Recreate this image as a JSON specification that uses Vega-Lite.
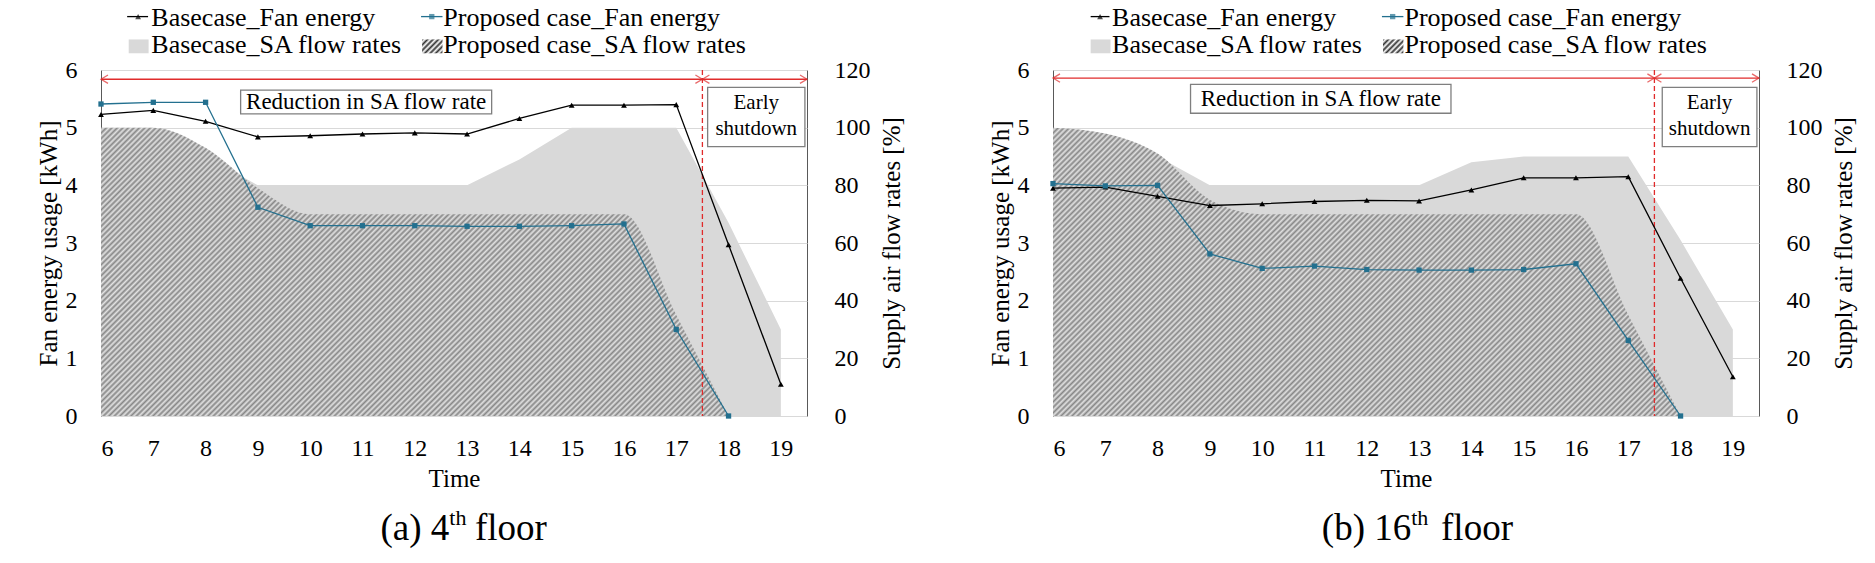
{
  "$schema": "https://vega.github.io/schema/vega-lite/v6.json",
  "padding": {"left": 35, "top": 4, "right": 5, "bottom": 5},
  "spacing": 82,
  "datasets": {
    "floors": [
      {"floor": "4th", "hour": 6, "base_fan": 5.23, "prop_fan": 5.41, "base_sa": 100, "prop_sa": 100},
      {"floor": "4th", "hour": 7, "base_fan": 5.30, "prop_fan": 5.44, "base_sa": 100, "prop_sa": 100},
      {"floor": "4th", "hour": 8, "base_fan": 5.11, "prop_fan": 5.44, "base_sa": 90, "prop_sa": 93},
      {"floor": "4th", "hour": 9, "base_fan": 4.84, "prop_fan": 3.62, "base_sa": 80, "prop_sa": 79},
      {"floor": "4th", "hour": 10, "base_fan": 4.86, "prop_fan": 3.30, "base_sa": 80, "prop_sa": 70},
      {"floor": "4th", "hour": 11, "base_fan": 4.89, "prop_fan": 3.30, "base_sa": 80, "prop_sa": 70},
      {"floor": "4th", "hour": 12, "base_fan": 4.91, "prop_fan": 3.30, "base_sa": 80, "prop_sa": 70},
      {"floor": "4th", "hour": 13, "base_fan": 4.89, "prop_fan": 3.29, "base_sa": 80, "prop_sa": 70},
      {"floor": "4th", "hour": 14, "base_fan": 5.16, "prop_fan": 3.29, "base_sa": 89, "prop_sa": 70},
      {"floor": "4th", "hour": 15, "base_fan": 5.39, "prop_fan": 3.30, "base_sa": 100, "prop_sa": 70},
      {"floor": "4th", "hour": 16, "base_fan": 5.39, "prop_fan": 3.33, "base_sa": 100, "prop_sa": 70},
      {"floor": "4th", "hour": 17, "base_fan": 5.40, "prop_fan": 1.50, "base_sa": 100, "prop_sa": 35},
      {"floor": "4th", "hour": 18, "base_fan": 2.97, "prop_fan": 0.00, "base_sa": 67, "prop_sa": 0},
      {"floor": "4th", "hour": 19, "base_fan": 0.55, "prop_fan": null, "base_sa": 30, "prop_sa": null},
      {"floor": "16th", "hour": 6, "base_fan": 3.95, "prop_fan": 4.03, "base_sa": 100, "prop_sa": 100},
      {"floor": "16th", "hour": 7, "base_fan": 3.97, "prop_fan": 3.99, "base_sa": 96, "prop_sa": 98},
      {"floor": "16th", "hour": 8, "base_fan": 3.81, "prop_fan": 4.00, "base_sa": 90, "prop_sa": 91},
      {"floor": "16th", "hour": 9, "base_fan": 3.65, "prop_fan": 2.81, "base_sa": 80, "prop_sa": 75},
      {"floor": "16th", "hour": 10, "base_fan": 3.68, "prop_fan": 2.56, "base_sa": 80, "prop_sa": 70},
      {"floor": "16th", "hour": 11, "base_fan": 3.72, "prop_fan": 2.60, "base_sa": 80, "prop_sa": 70},
      {"floor": "16th", "hour": 12, "base_fan": 3.74, "prop_fan": 2.54, "base_sa": 80, "prop_sa": 70},
      {"floor": "16th", "hour": 13, "base_fan": 3.73, "prop_fan": 2.53, "base_sa": 80, "prop_sa": 70},
      {"floor": "16th", "hour": 14, "base_fan": 3.92, "prop_fan": 2.53, "base_sa": 88, "prop_sa": 70},
      {"floor": "16th", "hour": 15, "base_fan": 4.13, "prop_fan": 2.54, "base_sa": 90, "prop_sa": 70},
      {"floor": "16th", "hour": 16, "base_fan": 4.13, "prop_fan": 2.64, "base_sa": 90, "prop_sa": 70},
      {"floor": "16th", "hour": 17, "base_fan": 4.15, "prop_fan": 1.31, "base_sa": 90, "prop_sa": 35},
      {"floor": "16th", "hour": 18, "base_fan": 2.39, "prop_fan": 0.00, "base_sa": 61, "prop_sa": 0},
      {"floor": "16th", "hour": 19, "base_fan": 0.68, "prop_fan": null, "base_sa": 30, "prop_sa": null}
    ]
  },
  "hconcat": [
    {
      "width": 706,
      "height": 346,
      "data": {"name": "floors"},
      "transform": [{"filter": "datum.floor === '4th'"}],
      "layer": [
        {
          "layer": [
            {
              "mark": {"type": "area", "color": "#d9d9d9"},
              "encoding": {
                "x": {
                  "field": "hour", "type": "quantitative",
                  "scale": {"domain": [6, 19.5], "nice": false, "zero": false},
                  "axis": {"values": [6, 7, 8, 9, 10, 11, 12, 13, 14, 15, 16, 17, 18, 19], "title": "Time", "labelPadding": 20, "titlePadding": 6}
                },
                "y": {
                  "field": "base_sa", "type": "quantitative",
                  "scale": {"domain": [0, 120], "nice": false},
                  "axis": {"orient": "right", "values": [0, 20, 40, 60, 80, 100, 120], "title": "Supply air flow rates [%]", "labelPadding": 27, "titleAngle": 270, "titleBaseline": "top", "titlePadding": 9}
                }
              }
            },
            {
              "mark": {"type": "area", "interpolate": "monotone", "color": {"gradient": "linear", "x1": 0, "y1": 0, "x2": 1.205, "y2": 0.555, "stops": [
                {"offset":0,"color":"#878787"},{"offset":0.003,"color":"#e2e2e2"},{"offset":0.006,"color":"#878787"},{"offset":0.009,"color":"#e2e2e2"},
                {"offset":0.012,"color":"#878787"},{"offset":0.015,"color":"#e2e2e2"},{"offset":0.018,"color":"#878787"},{"offset":0.021,"color":"#e2e2e2"},
                {"offset":0.024,"color":"#878787"},{"offset":0.027,"color":"#e2e2e2"},{"offset":0.03,"color":"#878787"},{"offset":0.033,"color":"#e2e2e2"},
                {"offset":0.036,"color":"#878787"},{"offset":0.039,"color":"#e2e2e2"},{"offset":0.042,"color":"#878787"},{"offset":0.045,"color":"#e2e2e2"},
                {"offset":0.048,"color":"#878787"},{"offset":0.051,"color":"#e2e2e2"},{"offset":0.054,"color":"#878787"},{"offset":0.057,"color":"#e2e2e2"},
                {"offset":0.06,"color":"#878787"},{"offset":0.063,"color":"#e2e2e2"},{"offset":0.066,"color":"#878787"},{"offset":0.069,"color":"#e2e2e2"},
                {"offset":0.072,"color":"#878787"},{"offset":0.075,"color":"#e2e2e2"},{"offset":0.078,"color":"#878787"},{"offset":0.081,"color":"#e2e2e2"},
                {"offset":0.084,"color":"#878787"},{"offset":0.087,"color":"#e2e2e2"},{"offset":0.09,"color":"#878787"},{"offset":0.093,"color":"#e2e2e2"},
                {"offset":0.096,"color":"#878787"},{"offset":0.099,"color":"#e2e2e2"},{"offset":0.102,"color":"#878787"},{"offset":0.105,"color":"#e2e2e2"},
                {"offset":0.108,"color":"#878787"},{"offset":0.111,"color":"#e2e2e2"},{"offset":0.114,"color":"#878787"},{"offset":0.117,"color":"#e2e2e2"},
                {"offset":0.12,"color":"#878787"},{"offset":0.123,"color":"#e2e2e2"},{"offset":0.126,"color":"#878787"},{"offset":0.129,"color":"#e2e2e2"},
                {"offset":0.132,"color":"#878787"},{"offset":0.135,"color":"#e2e2e2"},{"offset":0.138,"color":"#878787"},{"offset":0.141,"color":"#e2e2e2"},
                {"offset":0.144,"color":"#878787"},{"offset":0.147,"color":"#e2e2e2"},{"offset":0.15,"color":"#878787"},{"offset":0.153,"color":"#e2e2e2"},
                {"offset":0.156,"color":"#878787"},{"offset":0.159,"color":"#e2e2e2"},{"offset":0.162,"color":"#878787"},{"offset":0.165,"color":"#e2e2e2"},
                {"offset":0.168,"color":"#878787"},{"offset":0.171,"color":"#e2e2e2"},{"offset":0.174,"color":"#878787"},{"offset":0.177,"color":"#e2e2e2"},
                {"offset":0.18,"color":"#878787"},{"offset":0.183,"color":"#e2e2e2"},{"offset":0.186,"color":"#878787"},{"offset":0.189,"color":"#e2e2e2"},
                {"offset":0.192,"color":"#878787"},{"offset":0.195,"color":"#e2e2e2"},{"offset":0.198,"color":"#878787"},{"offset":0.201,"color":"#e2e2e2"},
                {"offset":0.204,"color":"#878787"},{"offset":0.207,"color":"#e2e2e2"},{"offset":0.21,"color":"#878787"},{"offset":0.213,"color":"#e2e2e2"},
                {"offset":0.216,"color":"#878787"},{"offset":0.219,"color":"#e2e2e2"},{"offset":0.222,"color":"#878787"},{"offset":0.225,"color":"#e2e2e2"},
                {"offset":0.228,"color":"#878787"},{"offset":0.231,"color":"#e2e2e2"},{"offset":0.234,"color":"#878787"},{"offset":0.237,"color":"#e2e2e2"},
                {"offset":0.24,"color":"#878787"},{"offset":0.243,"color":"#e2e2e2"},{"offset":0.246,"color":"#878787"},{"offset":0.249,"color":"#e2e2e2"},
                {"offset":0.252,"color":"#878787"},{"offset":0.255,"color":"#e2e2e2"},{"offset":0.258,"color":"#878787"},{"offset":0.261,"color":"#e2e2e2"},
                {"offset":0.264,"color":"#878787"},{"offset":0.267,"color":"#e2e2e2"},{"offset":0.27,"color":"#878787"},{"offset":0.273,"color":"#e2e2e2"},
                {"offset":0.276,"color":"#878787"},{"offset":0.279,"color":"#e2e2e2"},{"offset":0.282,"color":"#878787"},{"offset":0.285,"color":"#e2e2e2"},
                {"offset":0.288,"color":"#878787"},{"offset":0.291,"color":"#e2e2e2"},{"offset":0.294,"color":"#878787"},{"offset":0.297,"color":"#e2e2e2"},
                {"offset":0.3,"color":"#878787"},{"offset":0.303,"color":"#e2e2e2"},{"offset":0.306,"color":"#878787"},{"offset":0.309,"color":"#e2e2e2"},
                {"offset":0.312,"color":"#878787"},{"offset":0.315,"color":"#e2e2e2"},{"offset":0.318,"color":"#878787"},{"offset":0.321,"color":"#e2e2e2"},
                {"offset":0.324,"color":"#878787"},{"offset":0.327,"color":"#e2e2e2"},{"offset":0.33,"color":"#878787"},{"offset":0.333,"color":"#e2e2e2"},
                {"offset":0.336,"color":"#878787"},{"offset":0.339,"color":"#e2e2e2"},{"offset":0.342,"color":"#878787"},{"offset":0.345,"color":"#e2e2e2"},
                {"offset":0.348,"color":"#878787"},{"offset":0.351,"color":"#e2e2e2"},{"offset":0.354,"color":"#878787"},{"offset":0.357,"color":"#e2e2e2"},
                {"offset":0.36,"color":"#878787"},{"offset":0.363,"color":"#e2e2e2"},{"offset":0.366,"color":"#878787"},{"offset":0.369,"color":"#e2e2e2"},
                {"offset":0.372,"color":"#878787"},{"offset":0.375,"color":"#e2e2e2"},{"offset":0.378,"color":"#878787"},{"offset":0.381,"color":"#e2e2e2"},
                {"offset":0.384,"color":"#878787"},{"offset":0.387,"color":"#e2e2e2"},{"offset":0.39,"color":"#878787"},{"offset":0.393,"color":"#e2e2e2"},
                {"offset":0.396,"color":"#878787"},{"offset":0.399,"color":"#e2e2e2"},{"offset":0.402,"color":"#878787"},{"offset":0.405,"color":"#e2e2e2"},
                {"offset":0.408,"color":"#878787"},{"offset":0.411,"color":"#e2e2e2"},{"offset":0.414,"color":"#878787"},{"offset":0.417,"color":"#e2e2e2"},
                {"offset":0.42,"color":"#878787"},{"offset":0.423,"color":"#e2e2e2"},{"offset":0.426,"color":"#878787"},{"offset":0.429,"color":"#e2e2e2"},
                {"offset":0.432,"color":"#878787"},{"offset":0.435,"color":"#e2e2e2"},{"offset":0.438,"color":"#878787"},{"offset":0.441,"color":"#e2e2e2"},
                {"offset":0.444,"color":"#878787"},{"offset":0.447,"color":"#e2e2e2"},{"offset":0.45,"color":"#878787"},{"offset":0.453,"color":"#e2e2e2"},
                {"offset":0.456,"color":"#878787"},{"offset":0.459,"color":"#e2e2e2"},{"offset":0.462,"color":"#878787"},{"offset":0.465,"color":"#e2e2e2"},
                {"offset":0.468,"color":"#878787"},{"offset":0.471,"color":"#e2e2e2"},{"offset":0.474,"color":"#878787"},{"offset":0.477,"color":"#e2e2e2"},
                {"offset":0.48,"color":"#878787"},{"offset":0.483,"color":"#e2e2e2"},{"offset":0.486,"color":"#878787"},{"offset":0.489,"color":"#e2e2e2"},
                {"offset":0.492,"color":"#878787"},{"offset":0.495,"color":"#e2e2e2"},{"offset":0.498,"color":"#878787"},{"offset":0.501,"color":"#e2e2e2"},
                {"offset":0.504,"color":"#878787"},{"offset":0.507,"color":"#e2e2e2"},{"offset":0.51,"color":"#878787"},{"offset":0.513,"color":"#e2e2e2"},
                {"offset":0.516,"color":"#878787"},{"offset":0.519,"color":"#e2e2e2"},{"offset":0.522,"color":"#878787"},{"offset":0.525,"color":"#e2e2e2"},
                {"offset":0.528,"color":"#878787"},{"offset":0.531,"color":"#e2e2e2"},{"offset":0.534,"color":"#878787"},{"offset":0.537,"color":"#e2e2e2"},
                {"offset":0.54,"color":"#878787"},{"offset":0.543,"color":"#e2e2e2"},{"offset":0.546,"color":"#878787"},{"offset":0.549,"color":"#e2e2e2"},
                {"offset":0.552,"color":"#878787"},{"offset":0.555,"color":"#e2e2e2"},{"offset":0.558,"color":"#878787"},{"offset":0.561,"color":"#e2e2e2"},
                {"offset":0.564,"color":"#878787"},{"offset":0.567,"color":"#e2e2e2"},{"offset":0.57,"color":"#878787"},{"offset":0.573,"color":"#e2e2e2"},
                {"offset":0.576,"color":"#878787"},{"offset":0.579,"color":"#e2e2e2"},{"offset":0.582,"color":"#878787"},{"offset":0.585,"color":"#e2e2e2"},
                {"offset":0.588,"color":"#878787"},{"offset":0.591,"color":"#e2e2e2"},{"offset":0.594,"color":"#878787"},{"offset":0.597,"color":"#e2e2e2"},
                {"offset":0.6,"color":"#878787"},{"offset":0.603,"color":"#e2e2e2"},{"offset":0.606,"color":"#878787"},{"offset":0.609,"color":"#e2e2e2"},
                {"offset":0.612,"color":"#878787"},{"offset":0.615,"color":"#e2e2e2"},{"offset":0.618,"color":"#878787"},{"offset":0.621,"color":"#e2e2e2"},
                {"offset":0.624,"color":"#878787"},{"offset":0.627,"color":"#e2e2e2"},{"offset":0.63,"color":"#878787"},{"offset":0.633,"color":"#e2e2e2"},
                {"offset":0.636,"color":"#878787"},{"offset":0.639,"color":"#e2e2e2"},{"offset":0.642,"color":"#878787"},{"offset":0.645,"color":"#e2e2e2"},
                {"offset":0.648,"color":"#878787"},{"offset":0.651,"color":"#e2e2e2"},{"offset":0.654,"color":"#878787"},{"offset":0.657,"color":"#e2e2e2"},
                {"offset":0.66,"color":"#878787"},{"offset":0.663,"color":"#e2e2e2"},{"offset":0.666,"color":"#878787"},{"offset":0.669,"color":"#e2e2e2"},
                {"offset":0.672,"color":"#878787"},{"offset":0.675,"color":"#e2e2e2"},{"offset":0.678,"color":"#878787"},{"offset":0.681,"color":"#e2e2e2"},
                {"offset":0.684,"color":"#878787"},{"offset":0.687,"color":"#e2e2e2"},{"offset":0.69,"color":"#878787"},{"offset":0.693,"color":"#e2e2e2"},
                {"offset":0.696,"color":"#878787"},{"offset":0.699,"color":"#e2e2e2"},{"offset":0.702,"color":"#878787"},{"offset":0.705,"color":"#e2e2e2"},
                {"offset":0.708,"color":"#878787"},{"offset":0.711,"color":"#e2e2e2"},{"offset":0.714,"color":"#878787"},{"offset":0.717,"color":"#e2e2e2"},
                {"offset":0.72,"color":"#878787"},{"offset":0.723,"color":"#e2e2e2"},{"offset":0.726,"color":"#878787"},{"offset":0.729,"color":"#e2e2e2"},
                {"offset":0.732,"color":"#878787"},{"offset":0.735,"color":"#e2e2e2"},{"offset":0.738,"color":"#878787"},{"offset":0.741,"color":"#e2e2e2"},
                {"offset":0.744,"color":"#878787"},{"offset":0.747,"color":"#e2e2e2"},{"offset":0.75,"color":"#878787"},{"offset":0.753,"color":"#e2e2e2"},
                {"offset":0.756,"color":"#878787"},{"offset":0.759,"color":"#e2e2e2"},{"offset":0.762,"color":"#878787"},{"offset":0.765,"color":"#e2e2e2"},
                {"offset":0.768,"color":"#878787"},{"offset":0.771,"color":"#e2e2e2"},{"offset":0.774,"color":"#878787"},{"offset":0.777,"color":"#e2e2e2"},
                {"offset":0.78,"color":"#878787"},{"offset":0.783,"color":"#e2e2e2"},{"offset":0.786,"color":"#878787"},{"offset":0.789,"color":"#e2e2e2"},
                {"offset":0.792,"color":"#878787"},{"offset":0.795,"color":"#e2e2e2"},{"offset":0.798,"color":"#878787"},{"offset":0.801,"color":"#e2e2e2"},
                {"offset":0.804,"color":"#878787"},{"offset":0.807,"color":"#e2e2e2"},{"offset":0.81,"color":"#878787"},{"offset":0.813,"color":"#e2e2e2"},
                {"offset":0.816,"color":"#878787"},{"offset":0.819,"color":"#e2e2e2"},{"offset":0.822,"color":"#878787"},{"offset":0.825,"color":"#e2e2e2"},
                {"offset":0.828,"color":"#878787"},{"offset":0.831,"color":"#e2e2e2"},{"offset":0.834,"color":"#878787"},{"offset":0.837,"color":"#e2e2e2"},
                {"offset":0.84,"color":"#878787"},{"offset":0.843,"color":"#e2e2e2"},{"offset":0.846,"color":"#878787"},{"offset":0.849,"color":"#e2e2e2"},
                {"offset":0.852,"color":"#878787"},{"offset":0.855,"color":"#e2e2e2"},{"offset":0.858,"color":"#878787"},{"offset":0.861,"color":"#e2e2e2"},
                {"offset":0.864,"color":"#878787"},{"offset":0.867,"color":"#e2e2e2"},{"offset":0.87,"color":"#878787"},{"offset":0.873,"color":"#e2e2e2"},
                {"offset":0.876,"color":"#878787"},{"offset":0.879,"color":"#e2e2e2"},{"offset":0.882,"color":"#878787"},{"offset":0.885,"color":"#e2e2e2"},
                {"offset":0.888,"color":"#878787"},{"offset":0.891,"color":"#e2e2e2"},{"offset":0.894,"color":"#878787"},{"offset":0.897,"color":"#e2e2e2"},
                {"offset":0.9,"color":"#878787"},{"offset":0.903,"color":"#e2e2e2"},{"offset":0.906,"color":"#878787"},{"offset":0.909,"color":"#e2e2e2"},
                {"offset":0.912,"color":"#878787"},{"offset":0.915,"color":"#e2e2e2"},{"offset":0.918,"color":"#878787"},{"offset":0.921,"color":"#e2e2e2"},
                {"offset":0.924,"color":"#878787"},{"offset":0.927,"color":"#e2e2e2"},{"offset":0.93,"color":"#878787"},{"offset":0.933,"color":"#e2e2e2"},
                {"offset":0.936,"color":"#878787"},{"offset":0.939,"color":"#e2e2e2"},{"offset":0.942,"color":"#878787"},{"offset":0.945,"color":"#e2e2e2"},
                {"offset":0.948,"color":"#878787"},{"offset":0.951,"color":"#e2e2e2"},{"offset":0.954,"color":"#878787"},{"offset":0.957,"color":"#e2e2e2"},
                {"offset":0.96,"color":"#878787"},{"offset":0.963,"color":"#e2e2e2"},{"offset":0.966,"color":"#878787"},{"offset":0.969,"color":"#e2e2e2"},
                {"offset":0.972,"color":"#878787"},{"offset":0.975,"color":"#e2e2e2"},{"offset":0.978,"color":"#878787"},{"offset":0.981,"color":"#e2e2e2"},
                {"offset":0.984,"color":"#878787"},{"offset":0.987,"color":"#e2e2e2"},{"offset":0.99,"color":"#878787"},{"offset":0.993,"color":"#e2e2e2"},
                {"offset":0.996,"color":"#878787"},{"offset":0.999,"color":"#e2e2e2"}
              ]}},
              "encoding": {"x": {"field": "hour", "type": "quantitative"}, "y": {"field": "prop_sa", "type": "quantitative"}}
            }
          ]
        },
        {
          "layer": [
            {"data": {"values": [{}]}, "mark": {"type": "rule", "color": "#e02b2b", "strokeDash": [5, 3], "strokeWidth": 1.3}, "encoding": {"x": {"datum": 17.5}}},
            {"data": {"values": [{}]}, "mark": {"type": "rule", "color": "#e02b2b", "strokeWidth": 1.3}, "encoding": {"x": {"datum": 6}, "x2": {"datum": 19.5}, "y": {"datum": 5.84}}},
            {"data": {"values": [{}]}, "mark": {"type": "point", "shape": "M1,-0.6L0,0L1,0.6", "size": 196, "color": "#e02b2b", "strokeWidth": 1.3, "filled": false}, "encoding": {"x": {"datum": 6}, "y": {"datum": 5.84}}},
            {"data": {"values": [{}]}, "mark": {"type": "point", "shape": "M1,-0.6L0,0L1,0.6", "size": 196, "color": "#e02b2b", "strokeWidth": 1.3, "filled": false}, "encoding": {"x": {"datum": 17.5}, "y": {"datum": 5.84}}},
            {"data": {"values": [{}]}, "mark": {"type": "point", "shape": "M-1,-0.6L0,0L-1,0.6", "size": 196, "color": "#e02b2b", "strokeWidth": 1.3, "filled": false}, "encoding": {"x": {"datum": 17.5}, "y": {"datum": 5.84}}},
            {"data": {"values": [{}]}, "mark": {"type": "point", "shape": "M-1,-0.6L0,0L-1,0.6", "size": 196, "color": "#e02b2b", "strokeWidth": 1.3, "filled": false}, "encoding": {"x": {"datum": 19.5}, "y": {"datum": 5.84}}},
            {
              "mark": {"type": "line", "color": "#000", "strokeWidth": 1.3, "point": {"shape": "triangle-up", "size": 34, "color": "#000", "filled": true}},
              "encoding": {
                "x": {"field": "hour", "type": "quantitative"},
                "y": {
                  "field": "base_fan", "type": "quantitative",
                  "scale": {"domain": [0, 6], "nice": false},
                  "axis": {"orient": "left", "values": [0, 1, 2, 3, 4, 5, 6], "format": "d", "title": "Fan energy usage [kWh]", "grid": true, "gridColor": "#d9d9d9", "labelPadding": 24, "titlePadding": 4}
                }
              }
            },
            {
              "mark": {"type": "line", "color": "#23708f", "strokeWidth": 1.3, "point": {"shape": "square", "size": 28, "color": "#23708f", "filled": true}},
              "encoding": {"x": {"field": "hour", "type": "quantitative"}, "y": {"field": "prop_fan", "type": "quantitative"}}
            },
            {"data": {"values": [{}]}, "mark": {"type": "rect", "fill": "#fff", "stroke": "#7f7f7f", "strokeWidth": 1.3}, "encoding": {"x": {"datum": 8.67}, "x2": {"datum": 13.47}, "y": {"datum": 5.65}, "y2": {"datum": 5.24}}},
            {"data": {"values": [{}]}, "mark": {"type": "rect", "fill": "#fff", "stroke": "#7f7f7f", "strokeWidth": 1.3}, "encoding": {"x": {"datum": 17.6}, "x2": {"datum": 19.46}, "y": {"datum": 5.7}, "y2": {"datum": 4.67}}},
            {"data": {"values": [{}]}, "mark": {"type": "text", "text": "Reduction in SA flow rate", "fontSize": 23, "align": "center", "baseline": "middle"}, "encoding": {"x": {"datum": 11.07}, "y": {"datum": 5.44}}},
            {"data": {"values": [{}]}, "mark": {"type": "text", "text": "Early", "fontSize": 21, "align": "center", "baseline": "middle"}, "encoding": {"x": {"datum": 18.53}, "y": {"datum": 5.42}}},
            {"data": {"values": [{}]}, "mark": {"type": "text", "text": "shutdown", "fontSize": 21, "align": "center", "baseline": "middle"}, "encoding": {"x": {"datum": 18.53}, "y": {"datum": 4.98}}},
            {"data": {"values": [{}]}, "mark": {"type": "rule", "color": "#000", "strokeWidth": 1.3}, "encoding": {"x": {"datum": 6.5}, "x2": {"datum": 6.9}, "y": {"datum": 6.926}}},
            {"data": {"values": [{}]}, "mark": {"type": "point", "shape": "triangle-up", "size": 34, "color": "#000", "filled": true}, "encoding": {"x": {"datum": 6.71}, "y": {"datum": 6.926}}},
            {"data": {"values": [{}]}, "mark": {"type": "rule", "color": "#23708f", "strokeWidth": 1.3}, "encoding": {"x": {"datum": 12.12}, "x2": {"datum": 12.53}, "y": {"datum": 6.926}}},
            {"data": {"values": [{}]}, "mark": {"type": "point", "shape": "square", "size": 28, "color": "#23708f", "filled": true}, "encoding": {"x": {"datum": 12.325}, "y": {"datum": 6.926}}},
            {"data": {"values": [{}]}, "mark": {"type": "rect", "fill": "#d9d9d9"}, "encoding": {"x": {"datum": 6.53}, "x2": {"datum": 6.91}, "y": {"datum": 6.53}, "y2": {"datum": 6.29}}},
            {"data": {"values": [{}]}, "mark": {"type": "rect", "color": {"gradient": "linear", "x1": 0, "y1": 0, "x2": 1.154, "y2": 0.769, "stops": [
              {"offset": 0, "color": "#333"}, {"offset": 0.08, "color": "#fff"}, {"offset": 0.16, "color": "#333"}, {"offset": 0.24, "color": "#fff"},
              {"offset": 0.32, "color": "#333"}, {"offset": 0.4, "color": "#fff"}, {"offset": 0.48, "color": "#333"}, {"offset": 0.56, "color": "#fff"},
              {"offset": 0.64, "color": "#333"}, {"offset": 0.72, "color": "#fff"}, {"offset": 0.8, "color": "#333"}, {"offset": 0.88, "color": "#fff"},
              {"offset": 0.96, "color": "#333"}, {"offset": 1, "color": "#999"}]}}, "encoding": {"x": {"datum": 12.14}, "x2": {"datum": 12.53}, "y": {"datum": 6.53}, "y2": {"datum": 6.29}}},
            {"data": {"values": [{}]}, "mark": {"type": "text", "text": "Basecase_Fan energy", "fontSize": 26, "align": "left", "baseline": "alphabetic"}, "encoding": {"x": {"datum": 6.962}, "y": {"datum": 6.771}}},
            {"data": {"values": [{}]}, "mark": {"type": "text", "text": "Proposed case_Fan energy", "fontSize": 26, "align": "left", "baseline": "alphabetic"}, "encoding": {"x": {"datum": 12.545}, "y": {"datum": 6.771}}},
            {"data": {"values": [{}]}, "mark": {"type": "text", "text": "Basecase_SA flow rates", "fontSize": 26, "align": "left", "baseline": "alphabetic"}, "encoding": {"x": {"datum": 6.962}, "y": {"datum": 6.291}}},
            {"data": {"values": [{}]}, "mark": {"type": "text", "text": "Proposed case_SA flow rates", "fontSize": 26, "align": "left", "baseline": "alphabetic"}, "encoding": {"x": {"datum": 12.545}, "y": {"datum": 6.291}}},
            {"data": {"values": [{}]}, "mark": {"type": "text", "text": "(a) 4", "fontSize": 37, "align": "right", "baseline": "alphabetic"}, "encoding": {"x": {"datum": 12.66}, "y": {"datum": -2.147}}},
            {"data": {"values": [{}]}, "mark": {"type": "text", "text": "th", "fontSize": 22, "align": "left", "baseline": "alphabetic"}, "encoding": {"x": {"datum": 12.66}, "y": {"datum": -1.887}}},
            {"data": {"values": [{}]}, "mark": {"type": "text", "text": "floor", "fontSize": 37, "align": "left", "baseline": "alphabetic"}, "encoding": {"x": {"datum": 13.15}, "y": {"datum": -2.147}}}
          ]
        }
      ],
      "resolve": {"scale": {"y": "independent"}}
    },
    {
      "width": 706,
      "height": 346,
      "data": {"name": "floors"},
      "transform": [{"filter": "datum.floor === '16th'"}],
      "layer": [
        {
          "layer": [
            {
              "mark": {"type": "area", "color": "#d9d9d9"},
              "encoding": {
                "x": {
                  "field": "hour", "type": "quantitative",
                  "scale": {"domain": [6, 19.5], "nice": false, "zero": false},
                  "axis": {"values": [6, 7, 8, 9, 10, 11, 12, 13, 14, 15, 16, 17, 18, 19], "title": "Time", "labelPadding": 20, "titlePadding": 6}
                },
                "y": {
                  "field": "base_sa", "type": "quantitative",
                  "scale": {"domain": [0, 120], "nice": false},
                  "axis": {"orient": "right", "values": [0, 20, 40, 60, 80, 100, 120], "title": "Supply air flow rates [%]", "labelPadding": 27, "titleAngle": 270, "titleBaseline": "top", "titlePadding": 9}
                }
              }
            },
            {
              "mark": {"type": "area", "interpolate": "monotone", "color": {"gradient": "linear", "x1": 0, "y1": 0, "x2": 1.205, "y2": 0.555, "stops": [
                {"offset":0,"color":"#878787"},{"offset":0.003,"color":"#e2e2e2"},{"offset":0.006,"color":"#878787"},{"offset":0.009,"color":"#e2e2e2"},
                {"offset":0.012,"color":"#878787"},{"offset":0.015,"color":"#e2e2e2"},{"offset":0.018,"color":"#878787"},{"offset":0.021,"color":"#e2e2e2"},
                {"offset":0.024,"color":"#878787"},{"offset":0.027,"color":"#e2e2e2"},{"offset":0.03,"color":"#878787"},{"offset":0.033,"color":"#e2e2e2"},
                {"offset":0.036,"color":"#878787"},{"offset":0.039,"color":"#e2e2e2"},{"offset":0.042,"color":"#878787"},{"offset":0.045,"color":"#e2e2e2"},
                {"offset":0.048,"color":"#878787"},{"offset":0.051,"color":"#e2e2e2"},{"offset":0.054,"color":"#878787"},{"offset":0.057,"color":"#e2e2e2"},
                {"offset":0.06,"color":"#878787"},{"offset":0.063,"color":"#e2e2e2"},{"offset":0.066,"color":"#878787"},{"offset":0.069,"color":"#e2e2e2"},
                {"offset":0.072,"color":"#878787"},{"offset":0.075,"color":"#e2e2e2"},{"offset":0.078,"color":"#878787"},{"offset":0.081,"color":"#e2e2e2"},
                {"offset":0.084,"color":"#878787"},{"offset":0.087,"color":"#e2e2e2"},{"offset":0.09,"color":"#878787"},{"offset":0.093,"color":"#e2e2e2"},
                {"offset":0.096,"color":"#878787"},{"offset":0.099,"color":"#e2e2e2"},{"offset":0.102,"color":"#878787"},{"offset":0.105,"color":"#e2e2e2"},
                {"offset":0.108,"color":"#878787"},{"offset":0.111,"color":"#e2e2e2"},{"offset":0.114,"color":"#878787"},{"offset":0.117,"color":"#e2e2e2"},
                {"offset":0.12,"color":"#878787"},{"offset":0.123,"color":"#e2e2e2"},{"offset":0.126,"color":"#878787"},{"offset":0.129,"color":"#e2e2e2"},
                {"offset":0.132,"color":"#878787"},{"offset":0.135,"color":"#e2e2e2"},{"offset":0.138,"color":"#878787"},{"offset":0.141,"color":"#e2e2e2"},
                {"offset":0.144,"color":"#878787"},{"offset":0.147,"color":"#e2e2e2"},{"offset":0.15,"color":"#878787"},{"offset":0.153,"color":"#e2e2e2"},
                {"offset":0.156,"color":"#878787"},{"offset":0.159,"color":"#e2e2e2"},{"offset":0.162,"color":"#878787"},{"offset":0.165,"color":"#e2e2e2"},
                {"offset":0.168,"color":"#878787"},{"offset":0.171,"color":"#e2e2e2"},{"offset":0.174,"color":"#878787"},{"offset":0.177,"color":"#e2e2e2"},
                {"offset":0.18,"color":"#878787"},{"offset":0.183,"color":"#e2e2e2"},{"offset":0.186,"color":"#878787"},{"offset":0.189,"color":"#e2e2e2"},
                {"offset":0.192,"color":"#878787"},{"offset":0.195,"color":"#e2e2e2"},{"offset":0.198,"color":"#878787"},{"offset":0.201,"color":"#e2e2e2"},
                {"offset":0.204,"color":"#878787"},{"offset":0.207,"color":"#e2e2e2"},{"offset":0.21,"color":"#878787"},{"offset":0.213,"color":"#e2e2e2"},
                {"offset":0.216,"color":"#878787"},{"offset":0.219,"color":"#e2e2e2"},{"offset":0.222,"color":"#878787"},{"offset":0.225,"color":"#e2e2e2"},
                {"offset":0.228,"color":"#878787"},{"offset":0.231,"color":"#e2e2e2"},{"offset":0.234,"color":"#878787"},{"offset":0.237,"color":"#e2e2e2"},
                {"offset":0.24,"color":"#878787"},{"offset":0.243,"color":"#e2e2e2"},{"offset":0.246,"color":"#878787"},{"offset":0.249,"color":"#e2e2e2"},
                {"offset":0.252,"color":"#878787"},{"offset":0.255,"color":"#e2e2e2"},{"offset":0.258,"color":"#878787"},{"offset":0.261,"color":"#e2e2e2"},
                {"offset":0.264,"color":"#878787"},{"offset":0.267,"color":"#e2e2e2"},{"offset":0.27,"color":"#878787"},{"offset":0.273,"color":"#e2e2e2"},
                {"offset":0.276,"color":"#878787"},{"offset":0.279,"color":"#e2e2e2"},{"offset":0.282,"color":"#878787"},{"offset":0.285,"color":"#e2e2e2"},
                {"offset":0.288,"color":"#878787"},{"offset":0.291,"color":"#e2e2e2"},{"offset":0.294,"color":"#878787"},{"offset":0.297,"color":"#e2e2e2"},
                {"offset":0.3,"color":"#878787"},{"offset":0.303,"color":"#e2e2e2"},{"offset":0.306,"color":"#878787"},{"offset":0.309,"color":"#e2e2e2"},
                {"offset":0.312,"color":"#878787"},{"offset":0.315,"color":"#e2e2e2"},{"offset":0.318,"color":"#878787"},{"offset":0.321,"color":"#e2e2e2"},
                {"offset":0.324,"color":"#878787"},{"offset":0.327,"color":"#e2e2e2"},{"offset":0.33,"color":"#878787"},{"offset":0.333,"color":"#e2e2e2"},
                {"offset":0.336,"color":"#878787"},{"offset":0.339,"color":"#e2e2e2"},{"offset":0.342,"color":"#878787"},{"offset":0.345,"color":"#e2e2e2"},
                {"offset":0.348,"color":"#878787"},{"offset":0.351,"color":"#e2e2e2"},{"offset":0.354,"color":"#878787"},{"offset":0.357,"color":"#e2e2e2"},
                {"offset":0.36,"color":"#878787"},{"offset":0.363,"color":"#e2e2e2"},{"offset":0.366,"color":"#878787"},{"offset":0.369,"color":"#e2e2e2"},
                {"offset":0.372,"color":"#878787"},{"offset":0.375,"color":"#e2e2e2"},{"offset":0.378,"color":"#878787"},{"offset":0.381,"color":"#e2e2e2"},
                {"offset":0.384,"color":"#878787"},{"offset":0.387,"color":"#e2e2e2"},{"offset":0.39,"color":"#878787"},{"offset":0.393,"color":"#e2e2e2"},
                {"offset":0.396,"color":"#878787"},{"offset":0.399,"color":"#e2e2e2"},{"offset":0.402,"color":"#878787"},{"offset":0.405,"color":"#e2e2e2"},
                {"offset":0.408,"color":"#878787"},{"offset":0.411,"color":"#e2e2e2"},{"offset":0.414,"color":"#878787"},{"offset":0.417,"color":"#e2e2e2"},
                {"offset":0.42,"color":"#878787"},{"offset":0.423,"color":"#e2e2e2"},{"offset":0.426,"color":"#878787"},{"offset":0.429,"color":"#e2e2e2"},
                {"offset":0.432,"color":"#878787"},{"offset":0.435,"color":"#e2e2e2"},{"offset":0.438,"color":"#878787"},{"offset":0.441,"color":"#e2e2e2"},
                {"offset":0.444,"color":"#878787"},{"offset":0.447,"color":"#e2e2e2"},{"offset":0.45,"color":"#878787"},{"offset":0.453,"color":"#e2e2e2"},
                {"offset":0.456,"color":"#878787"},{"offset":0.459,"color":"#e2e2e2"},{"offset":0.462,"color":"#878787"},{"offset":0.465,"color":"#e2e2e2"},
                {"offset":0.468,"color":"#878787"},{"offset":0.471,"color":"#e2e2e2"},{"offset":0.474,"color":"#878787"},{"offset":0.477,"color":"#e2e2e2"},
                {"offset":0.48,"color":"#878787"},{"offset":0.483,"color":"#e2e2e2"},{"offset":0.486,"color":"#878787"},{"offset":0.489,"color":"#e2e2e2"},
                {"offset":0.492,"color":"#878787"},{"offset":0.495,"color":"#e2e2e2"},{"offset":0.498,"color":"#878787"},{"offset":0.501,"color":"#e2e2e2"},
                {"offset":0.504,"color":"#878787"},{"offset":0.507,"color":"#e2e2e2"},{"offset":0.51,"color":"#878787"},{"offset":0.513,"color":"#e2e2e2"},
                {"offset":0.516,"color":"#878787"},{"offset":0.519,"color":"#e2e2e2"},{"offset":0.522,"color":"#878787"},{"offset":0.525,"color":"#e2e2e2"},
                {"offset":0.528,"color":"#878787"},{"offset":0.531,"color":"#e2e2e2"},{"offset":0.534,"color":"#878787"},{"offset":0.537,"color":"#e2e2e2"},
                {"offset":0.54,"color":"#878787"},{"offset":0.543,"color":"#e2e2e2"},{"offset":0.546,"color":"#878787"},{"offset":0.549,"color":"#e2e2e2"},
                {"offset":0.552,"color":"#878787"},{"offset":0.555,"color":"#e2e2e2"},{"offset":0.558,"color":"#878787"},{"offset":0.561,"color":"#e2e2e2"},
                {"offset":0.564,"color":"#878787"},{"offset":0.567,"color":"#e2e2e2"},{"offset":0.57,"color":"#878787"},{"offset":0.573,"color":"#e2e2e2"},
                {"offset":0.576,"color":"#878787"},{"offset":0.579,"color":"#e2e2e2"},{"offset":0.582,"color":"#878787"},{"offset":0.585,"color":"#e2e2e2"},
                {"offset":0.588,"color":"#878787"},{"offset":0.591,"color":"#e2e2e2"},{"offset":0.594,"color":"#878787"},{"offset":0.597,"color":"#e2e2e2"},
                {"offset":0.6,"color":"#878787"},{"offset":0.603,"color":"#e2e2e2"},{"offset":0.606,"color":"#878787"},{"offset":0.609,"color":"#e2e2e2"},
                {"offset":0.612,"color":"#878787"},{"offset":0.615,"color":"#e2e2e2"},{"offset":0.618,"color":"#878787"},{"offset":0.621,"color":"#e2e2e2"},
                {"offset":0.624,"color":"#878787"},{"offset":0.627,"color":"#e2e2e2"},{"offset":0.63,"color":"#878787"},{"offset":0.633,"color":"#e2e2e2"},
                {"offset":0.636,"color":"#878787"},{"offset":0.639,"color":"#e2e2e2"},{"offset":0.642,"color":"#878787"},{"offset":0.645,"color":"#e2e2e2"},
                {"offset":0.648,"color":"#878787"},{"offset":0.651,"color":"#e2e2e2"},{"offset":0.654,"color":"#878787"},{"offset":0.657,"color":"#e2e2e2"},
                {"offset":0.66,"color":"#878787"},{"offset":0.663,"color":"#e2e2e2"},{"offset":0.666,"color":"#878787"},{"offset":0.669,"color":"#e2e2e2"},
                {"offset":0.672,"color":"#878787"},{"offset":0.675,"color":"#e2e2e2"},{"offset":0.678,"color":"#878787"},{"offset":0.681,"color":"#e2e2e2"},
                {"offset":0.684,"color":"#878787"},{"offset":0.687,"color":"#e2e2e2"},{"offset":0.69,"color":"#878787"},{"offset":0.693,"color":"#e2e2e2"},
                {"offset":0.696,"color":"#878787"},{"offset":0.699,"color":"#e2e2e2"},{"offset":0.702,"color":"#878787"},{"offset":0.705,"color":"#e2e2e2"},
                {"offset":0.708,"color":"#878787"},{"offset":0.711,"color":"#e2e2e2"},{"offset":0.714,"color":"#878787"},{"offset":0.717,"color":"#e2e2e2"},
                {"offset":0.72,"color":"#878787"},{"offset":0.723,"color":"#e2e2e2"},{"offset":0.726,"color":"#878787"},{"offset":0.729,"color":"#e2e2e2"},
                {"offset":0.732,"color":"#878787"},{"offset":0.735,"color":"#e2e2e2"},{"offset":0.738,"color":"#878787"},{"offset":0.741,"color":"#e2e2e2"},
                {"offset":0.744,"color":"#878787"},{"offset":0.747,"color":"#e2e2e2"},{"offset":0.75,"color":"#878787"},{"offset":0.753,"color":"#e2e2e2"},
                {"offset":0.756,"color":"#878787"},{"offset":0.759,"color":"#e2e2e2"},{"offset":0.762,"color":"#878787"},{"offset":0.765,"color":"#e2e2e2"},
                {"offset":0.768,"color":"#878787"},{"offset":0.771,"color":"#e2e2e2"},{"offset":0.774,"color":"#878787"},{"offset":0.777,"color":"#e2e2e2"},
                {"offset":0.78,"color":"#878787"},{"offset":0.783,"color":"#e2e2e2"},{"offset":0.786,"color":"#878787"},{"offset":0.789,"color":"#e2e2e2"},
                {"offset":0.792,"color":"#878787"},{"offset":0.795,"color":"#e2e2e2"},{"offset":0.798,"color":"#878787"},{"offset":0.801,"color":"#e2e2e2"},
                {"offset":0.804,"color":"#878787"},{"offset":0.807,"color":"#e2e2e2"},{"offset":0.81,"color":"#878787"},{"offset":0.813,"color":"#e2e2e2"},
                {"offset":0.816,"color":"#878787"},{"offset":0.819,"color":"#e2e2e2"},{"offset":0.822,"color":"#878787"},{"offset":0.825,"color":"#e2e2e2"},
                {"offset":0.828,"color":"#878787"},{"offset":0.831,"color":"#e2e2e2"},{"offset":0.834,"color":"#878787"},{"offset":0.837,"color":"#e2e2e2"},
                {"offset":0.84,"color":"#878787"},{"offset":0.843,"color":"#e2e2e2"},{"offset":0.846,"color":"#878787"},{"offset":0.849,"color":"#e2e2e2"},
                {"offset":0.852,"color":"#878787"},{"offset":0.855,"color":"#e2e2e2"},{"offset":0.858,"color":"#878787"},{"offset":0.861,"color":"#e2e2e2"},
                {"offset":0.864,"color":"#878787"},{"offset":0.867,"color":"#e2e2e2"},{"offset":0.87,"color":"#878787"},{"offset":0.873,"color":"#e2e2e2"},
                {"offset":0.876,"color":"#878787"},{"offset":0.879,"color":"#e2e2e2"},{"offset":0.882,"color":"#878787"},{"offset":0.885,"color":"#e2e2e2"},
                {"offset":0.888,"color":"#878787"},{"offset":0.891,"color":"#e2e2e2"},{"offset":0.894,"color":"#878787"},{"offset":0.897,"color":"#e2e2e2"},
                {"offset":0.9,"color":"#878787"},{"offset":0.903,"color":"#e2e2e2"},{"offset":0.906,"color":"#878787"},{"offset":0.909,"color":"#e2e2e2"},
                {"offset":0.912,"color":"#878787"},{"offset":0.915,"color":"#e2e2e2"},{"offset":0.918,"color":"#878787"},{"offset":0.921,"color":"#e2e2e2"},
                {"offset":0.924,"color":"#878787"},{"offset":0.927,"color":"#e2e2e2"},{"offset":0.93,"color":"#878787"},{"offset":0.933,"color":"#e2e2e2"},
                {"offset":0.936,"color":"#878787"},{"offset":0.939,"color":"#e2e2e2"},{"offset":0.942,"color":"#878787"},{"offset":0.945,"color":"#e2e2e2"},
                {"offset":0.948,"color":"#878787"},{"offset":0.951,"color":"#e2e2e2"},{"offset":0.954,"color":"#878787"},{"offset":0.957,"color":"#e2e2e2"},
                {"offset":0.96,"color":"#878787"},{"offset":0.963,"color":"#e2e2e2"},{"offset":0.966,"color":"#878787"},{"offset":0.969,"color":"#e2e2e2"},
                {"offset":0.972,"color":"#878787"},{"offset":0.975,"color":"#e2e2e2"},{"offset":0.978,"color":"#878787"},{"offset":0.981,"color":"#e2e2e2"},
                {"offset":0.984,"color":"#878787"},{"offset":0.987,"color":"#e2e2e2"},{"offset":0.99,"color":"#878787"},{"offset":0.993,"color":"#e2e2e2"},
                {"offset":0.996,"color":"#878787"},{"offset":0.999,"color":"#e2e2e2"}
              ]}},
              "encoding": {"x": {"field": "hour", "type": "quantitative"}, "y": {"field": "prop_sa", "type": "quantitative"}}
            }
          ]
        },
        {
          "layer": [
            {"data": {"values": [{}]}, "mark": {"type": "rule", "color": "#e02b2b", "strokeDash": [5, 3], "strokeWidth": 1.3}, "encoding": {"x": {"datum": 17.5}}},
            {"data": {"values": [{}]}, "mark": {"type": "rule", "color": "#e02b2b", "strokeWidth": 1.3}, "encoding": {"x": {"datum": 6}, "x2": {"datum": 19.5}, "y": {"datum": 5.86}}},
            {"data": {"values": [{}]}, "mark": {"type": "point", "shape": "M1,-0.6L0,0L1,0.6", "size": 196, "color": "#e02b2b", "strokeWidth": 1.3, "filled": false}, "encoding": {"x": {"datum": 6}, "y": {"datum": 5.86}}},
            {"data": {"values": [{}]}, "mark": {"type": "point", "shape": "M1,-0.6L0,0L1,0.6", "size": 196, "color": "#e02b2b", "strokeWidth": 1.3, "filled": false}, "encoding": {"x": {"datum": 17.5}, "y": {"datum": 5.86}}},
            {"data": {"values": [{}]}, "mark": {"type": "point", "shape": "M-1,-0.6L0,0L-1,0.6", "size": 196, "color": "#e02b2b", "strokeWidth": 1.3, "filled": false}, "encoding": {"x": {"datum": 17.5}, "y": {"datum": 5.86}}},
            {"data": {"values": [{}]}, "mark": {"type": "point", "shape": "M-1,-0.6L0,0L-1,0.6", "size": 196, "color": "#e02b2b", "strokeWidth": 1.3, "filled": false}, "encoding": {"x": {"datum": 19.5}, "y": {"datum": 5.86}}},
            {
              "mark": {"type": "line", "color": "#000", "strokeWidth": 1.3, "point": {"shape": "triangle-up", "size": 34, "color": "#000", "filled": true}},
              "encoding": {
                "x": {"field": "hour", "type": "quantitative"},
                "y": {
                  "field": "base_fan", "type": "quantitative",
                  "scale": {"domain": [0, 6], "nice": false},
                  "axis": {"orient": "left", "values": [0, 1, 2, 3, 4, 5, 6], "format": "d", "title": "Fan energy usage [kWh]", "grid": true, "gridColor": "#d9d9d9", "labelPadding": 24, "titlePadding": 4}
                }
              }
            },
            {
              "mark": {"type": "line", "color": "#23708f", "strokeWidth": 1.3, "point": {"shape": "square", "size": 28, "color": "#23708f", "filled": true}},
              "encoding": {"x": {"field": "hour", "type": "quantitative"}, "y": {"field": "prop_fan", "type": "quantitative"}}
            },
            {"data": {"values": [{}]}, "mark": {"type": "rect", "fill": "#fff", "stroke": "#7f7f7f", "strokeWidth": 1.3}, "encoding": {"x": {"datum": 8.63}, "x2": {"datum": 13.61}, "y": {"datum": 5.75}, "y2": {"datum": 5.25}}},
            {"data": {"values": [{}]}, "mark": {"type": "rect", "fill": "#fff", "stroke": "#7f7f7f", "strokeWidth": 1.3}, "encoding": {"x": {"datum": 17.65}, "x2": {"datum": 19.46}, "y": {"datum": 5.7}, "y2": {"datum": 4.67}}},
            {"data": {"values": [{}]}, "mark": {"type": "text", "text": "Reduction in SA flow rate", "fontSize": 23, "align": "center", "baseline": "middle"}, "encoding": {"x": {"datum": 11.12}, "y": {"datum": 5.5}}},
            {"data": {"values": [{}]}, "mark": {"type": "text", "text": "Early", "fontSize": 21, "align": "center", "baseline": "middle"}, "encoding": {"x": {"datum": 18.555}, "y": {"datum": 5.42}}},
            {"data": {"values": [{}]}, "mark": {"type": "text", "text": "shutdown", "fontSize": 21, "align": "center", "baseline": "middle"}, "encoding": {"x": {"datum": 18.555}, "y": {"datum": 4.98}}},
            {"data": {"values": [{}]}, "mark": {"type": "rule", "color": "#000", "strokeWidth": 1.3}, "encoding": {"x": {"datum": 6.72}, "x2": {"datum": 7.08}, "y": {"datum": 6.926}}},
            {"data": {"values": [{}]}, "mark": {"type": "point", "shape": "triangle-up", "size": 34, "color": "#000", "filled": true}, "encoding": {"x": {"datum": 6.9}, "y": {"datum": 6.926}}},
            {"data": {"values": [{}]}, "mark": {"type": "rule", "color": "#23708f", "strokeWidth": 1.3}, "encoding": {"x": {"datum": 12.29}, "x2": {"datum": 12.7}, "y": {"datum": 6.926}}},
            {"data": {"values": [{}]}, "mark": {"type": "point", "shape": "square", "size": 28, "color": "#23708f", "filled": true}, "encoding": {"x": {"datum": 12.495}, "y": {"datum": 6.926}}},
            {"data": {"values": [{}]}, "mark": {"type": "rect", "fill": "#d9d9d9"}, "encoding": {"x": {"datum": 6.72}, "x2": {"datum": 7.1}, "y": {"datum": 6.53}, "y2": {"datum": 6.29}}},
            {"data": {"values": [{}]}, "mark": {"type": "rect", "color": {"gradient": "linear", "x1": 0, "y1": 0, "x2": 1.154, "y2": 0.769, "stops": [
              {"offset": 0, "color": "#333"}, {"offset": 0.08, "color": "#fff"}, {"offset": 0.16, "color": "#333"}, {"offset": 0.24, "color": "#fff"},
              {"offset": 0.32, "color": "#333"}, {"offset": 0.4, "color": "#fff"}, {"offset": 0.48, "color": "#333"}, {"offset": 0.56, "color": "#fff"},
              {"offset": 0.64, "color": "#333"}, {"offset": 0.72, "color": "#fff"}, {"offset": 0.8, "color": "#333"}, {"offset": 0.88, "color": "#fff"},
              {"offset": 0.96, "color": "#333"}, {"offset": 1, "color": "#999"}]}}, "encoding": {"x": {"datum": 12.31}, "x2": {"datum": 12.7}, "y": {"datum": 6.53}, "y2": {"datum": 6.29}}},
            {"data": {"values": [{}]}, "mark": {"type": "text", "text": "Basecase_Fan energy", "fontSize": 26, "align": "left", "baseline": "alphabetic"}, "encoding": {"x": {"datum": 7.13}, "y": {"datum": 6.771}}},
            {"data": {"values": [{}]}, "mark": {"type": "text", "text": "Proposed case_Fan energy", "fontSize": 26, "align": "left", "baseline": "alphabetic"}, "encoding": {"x": {"datum": 12.72}, "y": {"datum": 6.771}}},
            {"data": {"values": [{}]}, "mark": {"type": "text", "text": "Basecase_SA flow rates", "fontSize": 26, "align": "left", "baseline": "alphabetic"}, "encoding": {"x": {"datum": 7.13}, "y": {"datum": 6.291}}},
            {"data": {"values": [{}]}, "mark": {"type": "text", "text": "Proposed case_SA flow rates", "fontSize": 26, "align": "left", "baseline": "alphabetic"}, "encoding": {"x": {"datum": 12.72}, "y": {"datum": 6.291}}},
            {"data": {"values": [{}]}, "mark": {"type": "text", "text": "(b) 16", "fontSize": 37, "align": "right", "baseline": "alphabetic"}, "encoding": {"x": {"datum": 12.85}, "y": {"datum": -2.147}}},
            {"data": {"values": [{}]}, "mark": {"type": "text", "text": "th", "fontSize": 22, "align": "left", "baseline": "alphabetic"}, "encoding": {"x": {"datum": 12.85}, "y": {"datum": -1.887}}},
            {"data": {"values": [{}]}, "mark": {"type": "text", "text": "floor", "fontSize": 37, "align": "left", "baseline": "alphabetic"}, "encoding": {"x": {"datum": 13.42}, "y": {"datum": -2.147}}}
          ]
        }
      ],
      "resolve": {"scale": {"y": "independent"}}
    }
  ],
  "config": {
    "font": "Liberation Serif",
    "view": {"stroke": "#595959", "strokeWidth": 1},
    "axis": {
      "labelFont": "Liberation Serif", "titleFont": "Liberation Serif",
      "labelFontSize": 24, "titleFontSize": 25, "titleFontWeight": "normal",
      "labelColor": "#000", "titleColor": "#000",
      "ticks": false, "tickSize": 0, "domain": false, "grid": false
    },
    "text": {"font": "Liberation Serif", "color": "#000"}
  }
}
